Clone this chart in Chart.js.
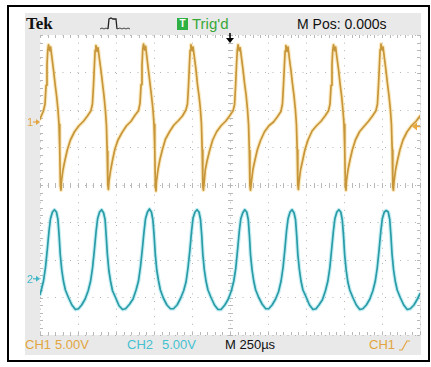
<!DOCTYPE html>
<html>
<head>
<meta charset="utf-8">
<script src="https://cdn.jsdelivr.net/npm/chart.js@4.4.1/dist/chart.umd.min.js"></script>
<style>
  html, body { margin: 0; padding: 0; background: #fff; }
  body { width: 431px; height: 367px; position: relative; overflow: hidden; font-family: "Liberation Sans", Arial, sans-serif; }
  .abs { position: absolute; white-space: nowrap; }
  .frame { left: 7px; top: 5px; width: 423px; height: 357px; border: 2px solid #000; box-sizing: border-box; }
  .screen { left: 25px; top: 13px; width: 396px; height: 342px; background: #e9e9e9; }
  .plot { left: 40px; top: 35px; width: 380px; height: 300px; background: #fff; }
  .tek { left: 26px; top: 15px; font: bold 17px/17px "Liberation Serif", "DejaVu Serif", serif; color: #111; }
  .trigbox { left: 177px; top: 18px; width: 11px; height: 12px; background: #2fb043; color: #fff; font: bold 10px/12px "Liberation Sans", sans-serif; text-align: center; }
  .trig { left: 192px; top: 16px; font-size: 15px; line-height: 15px; color: #38a838; }
  .mpos { left: 297px; top: 17px; font-size: 14px; line-height: 14px; color: #111; }
  .foot { top: 338px; font-size: 13px; line-height: 13px; }
  .c1 { color: #e2a540; }
  .c2 { color: #45c1d0; }
  .blk { color: #111; }
  canvas { position: absolute; left: 0; top: 0; }
</style>
</head>
<body>
<div class="abs frame"></div>
<div class="abs screen"></div>
<div class="abs plot"></div>

<div class="abs tek">Tek</div>
<svg class="abs" style="left:99px;top:16px" width="33" height="16">
  <polyline points="1,13 3,12 5,13 7,12 9,13" fill="none" stroke="#444" stroke-width="1"/>
  <polyline points="9,13 10,3 12,2 14,3 17,3 18,13" fill="none" stroke="#222" stroke-width="1.3"/>
  <polyline points="18,13 21,12 23,13 25,12 27,13 29,12 31,13" fill="none" stroke="#444" stroke-width="1"/>
</svg>
<div class="abs trigbox">T</div>
<div class="abs trig">Trig'd</div>
<div class="abs mpos">M Pos: 0.000s</div>

<div class="abs foot c1" style="left:25px">CH1</div>
<div class="abs foot c1" style="left:55px">5.00V</div>
<div class="abs foot c2" style="left:127px">CH2</div>
<div class="abs foot c2" style="left:162px">5.00V</div>
<div class="abs foot blk" style="left:225px">M 250µs</div>
<div class="abs foot c1" style="left:369px">CH1</div>
<svg class="abs" style="left:397px;top:339px" width="14" height="13">
  <polyline points="2,11 5,11 10,2 13,2" fill="none" stroke="#e2a540" stroke-width="1.2"/>
</svg>

<canvas id="scope" width="431" height="367"></canvas>

<script>
// time in microseconds (M 250us/div, trigger at 0), levels in volts (5 V/div)
const ch1Time = [
  -1250, -1227, -1217, -1210, -1204, -1199, -1194, -1186, -1180, -1171, -1161, -1151, -1141, -1132, -1125, -1120, -1116, -1112,
  -1109, -1099, -1086, -1070, -1050, -1023, -994, -964, -938, -915, -905, -898, -892, -887, -882, -874, -868, -859, -849, -839, -829, -820, -813, -808, -804, -800,
  -796, -786, -773, -757, -737, -710, -681, -651, -625, -602, -592, -585, -579, -574, -569, -561, -555, -546, -536, -526, -516, -507, -500, -495, -491, -487,
  -484, -474, -461, -445, -425, -398, -369, -339, -313, -290, -280, -273, -267, -262, -257, -249, -243, -234, -224, -214, -204, -195, -188, -183, -179, -175,
  -170, -163, -150, -134, -114, -88, -59, -29, -3, 20, 30, 37, 43, 48, 53, 61, 67, 76, 86, 96, 106, 115, 122, 127, 131, 135,
  141, 151, 164, 180, 200, 227, 256, 286, 312, 335, 345, 352, 358, 363, 368, 376, 382, 391, 401, 411, 421, 430, 437, 442, 446, 450,
  454, 464, 477, 493, 513, 540, 569, 599, 625, 648, 658, 665, 671, 676, 681, 689, 695, 704, 714, 724, 734, 743, 750, 755, 759, 763,
  766, 776, 789, 805, 825, 852, 881, 911, 937, 960, 970, 977, 983, 988, 993, 1001, 1007, 1016, 1026, 1036, 1046, 1055, 1062, 1067, 1071, 1075,
  1079, 1089, 1102, 1118, 1138, 1165, 1194, 1224, 1250
]
const ch1Volts = [
  0.4, 1.5, 2.4, 4.9, 7.6, 9.6, 10.3, 9.5, 10.0, 8.5, 6.9, 5.1, 3.5, 1.7, -0.3, -3.7, -8.5, -9.1,
  -8.0, -6.4, -5.1, -3.7, -2.4, -1.3, -0.5, 0.1, 0.8, 1.5, 2.4, 4.9, 7.6, 9.6, 10.2, 9.4, 9.9, 8.4, 6.9, 5.2, 3.5, 1.6, -0.4, -3.9, -8.4, -9.0,
  -7.9, -6.5, -5.1, -3.6, -2.4, -1.4, -0.5, 0.1, 0.9, 1.5, 2.5, 5.0, 7.5, 9.7, 10.4, 9.6, 10.1, 8.5, 6.8, 5.1, 3.4, 1.7, -0.3, -3.6, -8.6, -9.2,
  -8.0, -6.4, -5.0, -3.7, -2.3, -1.3, -0.4, 0.2, 0.8, 1.6, 2.4, 4.8, 7.6, 9.6, 10.3, 9.5, 10.0, 8.6, 7.0, 5.0, 3.5, 1.8, -0.2, -3.7, -8.5, -9.1,
  -8.1, -6.4, -5.1, -3.8, -2.4, -1.3, -0.5, 0.1, 0.8, 1.5, 2.3, 4.9, 7.7, 9.6, 10.3, 9.5, 9.9, 8.5, 6.9, 5.1, 3.6, 1.7, -0.3, -3.8, -8.5, -9.1,
  -8.0, -6.3, -5.1, -3.7, -2.5, -1.3, -0.5, 0.0, 0.7, 1.4, 2.4, 5.0, 7.6, 9.5, 10.2, 9.4, 10.0, 8.4, 6.9, 5.1, 3.5, 1.7, -0.3, -3.7, -8.4, -9.0,
  -8.0, -6.4, -5.2, -3.7, -2.4, -1.2, -0.5, 0.1, 0.8, 1.5, 2.4, 4.9, 7.6, 9.6, 10.3, 9.5, 10.0, 8.5, 7.0, 5.1, 3.5, 1.6, -0.3, -3.7, -8.5, -9.1,
  -7.9, -6.4, -5.1, -3.7, -2.4, -1.3, -0.6, 0.1, 0.8, 1.5, 2.4, 4.9, 7.6, 9.7, 10.4, 9.6, 10.0, 8.5, 6.9, 5.1, 3.5, 1.7, -0.3, -3.7, -8.6, -9.1,
  -8.0, -6.4, -5.1, -3.7, -2.4, -1.3, -0.5, 0.1, 0.8
]

const ch2Time = [
  -1250, -1243, -1227, -1214, -1202, -1191, -1181, -1168, -1155,
  -1142, -1132, -1124, -1117, -1107, -1096, -1083, -1063, -1040, -1017, -997,
  -976, -953, -933, -917, -904, -892, -881, -871, -858, -845,
  -832, -822, -814, -807, -797, -786, -773, -753, -730, -707, -687,
  -661, -638, -618, -602, -589, -577, -566, -556, -543, -530,
  -517, -507, -499, -492, -482, -471, -458, -438, -415, -392, -372,
  -348, -325, -305, -289, -276, -264, -253, -243, -230, -217,
  -204, -194, -186, -179, -169, -158, -145, -125, -102, -79, -59,
  -34, -11, 9, 25, 38, 50, 61, 71, 84, 97,
  110, 120, 128, 135, 145, 156, 169, 189, 212, 235, 255,
  277, 300, 320, 336, 349, 361, 372, 382, 395, 408,
  421, 431, 439, 446, 456, 467, 480, 500, 523, 546, 566,
  585, 608, 628, 644, 657, 669, 680, 690, 703, 716,
  729, 739, 747, 754, 764, 775, 788, 808, 831, 854, 874,
  897, 920, 940, 956, 969, 981, 992, 1002, 1015, 1028,
  1041, 1051, 1059, 1066, 1076, 1087, 1100, 1120, 1143, 1166, 1186,
  1210, 1233, 1250
]
const ch2Volts = [
  -2.1, -1.6, -0.3, 1.5, 3.9, 6.3, 8.0, 8.9, 9.2,
  8.9, 7.9, 5.7, 3.3, 1.2, -0.3, -1.5, -2.5, -3.5, -4.1, -4.0,
  -3.5, -2.7, -1.6, -0.3, 1.5, 3.9, 6.3, 8.0, 8.9, 9.2,
  8.8, 7.9, 5.6, 3.3, 1.1, -0.3, -1.6, -2.5, -3.6, -4.1, -4.0,
  -3.4, -2.7, -1.5, -0.3, 1.6, 3.9, 6.2, 8.0, 8.9, 9.3,
  8.9, 7.8, 5.7, 3.4, 1.2, -0.2, -1.5, -2.6, -3.5, -4.0, -4.0,
  -3.5, -2.6, -1.6, -0.4, 1.5, 3.8, 6.3, 8.1, 8.9, 9.2,
  8.9, 7.9, 5.8, 3.3, 1.2, -0.3, -1.5, -2.5, -3.5, -4.1, -4.1,
  -3.5, -2.7, -1.6, -0.3, 1.4, 3.9, 6.3, 8.0, 8.8, 9.2,
  8.9, 7.9, 5.7, 3.2, 1.2, -0.3, -1.5, -2.5, -3.4, -4.0, -4.0,
  -3.5, -2.7, -1.7, -0.3, 1.5, 3.9, 6.4, 8.0, 8.9, 9.2,
  8.8, 7.9, 5.7, 3.3, 1.3, -0.3, -1.5, -2.4, -3.5, -4.1, -4.0,
  -3.5, -2.8, -1.6, -0.3, 1.5, 4.0, 6.3, 8.0, 8.9, 9.2,
  8.9, 7.8, 5.7, 3.3, 1.2, -0.4, -1.5, -2.5, -3.5, -4.1, -4.0,
  -3.5, -2.7, -1.6, -0.3, 1.5, 3.9, 6.3, 8.0, 8.9, 9.1,
  8.9, 7.9, 5.7, 3.3, 1.2, -0.3, -1.5, -2.5, -3.5, -4.1, -4.0,
  -3.5, -2.7, -2.0
]

const timeTicks = [-1250, -1000, -750, -500, -250, 0, 250, 500, 750, 1000, 1250]
const divTicks = [-4, -3, -2, -1, 0, 1, 2, 3, 4]
const trigLevel = -0.6

const CH1 = '#c8963a'
const CH1_GLOW = 'rgba(244, 208, 120, 0.45)'
const CH2 = '#2a9ca7'
const CH2_GLOW = 'rgba(130, 218, 228, 0.45)'

const pts = (ts, vs) => ts.map((t, i) => ({ x: t, y: vs[i] }))

const trace = (data, axis, color, width, order) => ({
  data, yAxisID: axis, borderColor: color, borderWidth: width, order,
  borderJoinStyle: 'round', borderCapStyle: 'round',
  pointRadius: 0, tension: 0, fill: false
})

// minor ticks on the edges and centre cross, channel markers, trigger arrows
const decor = {
  id: 'decor',
  beforeDatasetsDraw(chart) {
    const { ctx, chartArea: a, scales: { x, yDiv } } = chart
    const cx = x.getPixelForValue(0)
    const cy = yDiv.getPixelForValue(0)
    ctx.save()
    ctx.strokeStyle = '#b8b8b8'
    ctx.lineWidth = 1
    ctx.beginPath()
    for (let t = -1250; t <= 1250; t += 50) {
      const px = Math.round(x.getPixelForValue(t)) + 0.5
      ctx.moveTo(px, a.top); ctx.lineTo(px, a.top + 3)
      ctx.moveTo(px, a.bottom - 3); ctx.lineTo(px, a.bottom)
      ctx.moveTo(px, cy - 2); ctx.lineTo(px, cy + 3)
    }
    for (let d = -20; d <= 20; d++) {
      const py = Math.round(yDiv.getPixelForValue(d / 5)) + 0.5
      ctx.moveTo(a.left, py); ctx.lineTo(a.left + 3, py)
      ctx.moveTo(a.right - 3, py); ctx.lineTo(a.right, py)
      ctx.moveTo(cx - 2, py); ctx.lineTo(cx + 3, py)
    }
    ctx.stroke()
    ctx.restore()
  },
  afterDatasetsDraw(chart) {
    const { ctx, chartArea: a, scales: { x, y1, y2 } } = chart
    ctx.save()
    const marker = (label, py, color) => {
      ctx.fillStyle = color
      ctx.strokeStyle = color
      ctx.font = '11px "Liberation Sans", sans-serif'
      ctx.textBaseline = 'middle'
      ctx.fillText(label, a.left - 13, py + 1)
      ctx.lineWidth = 1.2
      ctx.beginPath(); ctx.moveTo(a.left - 7, py); ctx.lineTo(a.left - 2, py); ctx.stroke()
      ctx.beginPath(); ctx.moveTo(a.left, py); ctx.lineTo(a.left - 4, py - 3); ctx.lineTo(a.left - 4, py + 3); ctx.closePath(); ctx.fill()
    }
    marker('1', y1.getPixelForValue(0), '#e2a540')
    marker('2', y2.getPixelForValue(0), '#3fb7c6')

    // trigger position
    const tx = x.getPixelForValue(0)
    ctx.fillStyle = '#000'
    ctx.strokeStyle = '#000'
    ctx.lineWidth = 1.5
    ctx.beginPath(); ctx.moveTo(tx, a.top - 2); ctx.lineTo(tx, a.top + 4); ctx.stroke()
    ctx.beginPath(); ctx.moveTo(tx - 4, a.top + 3); ctx.lineTo(tx + 4, a.top + 3); ctx.lineTo(tx, a.top + 8); ctx.closePath(); ctx.fill()

    // trigger level
    const ly = y1.getPixelForValue(trigLevel)
    ctx.fillStyle = '#e9a93e'
    ctx.strokeStyle = '#e9a93e'
    ctx.beginPath(); ctx.moveTo(a.right - 8, ly); ctx.lineTo(a.right - 3, ly - 4); ctx.lineTo(a.right - 3, ly + 4); ctx.closePath(); ctx.fill()
    ctx.beginPath(); ctx.moveTo(a.right - 4, ly); ctx.lineTo(a.right, ly); ctx.stroke()
    ctx.restore()
  }
}

new Chart(document.getElementById('scope'), {
  type: 'line',
  data: {
    datasets: [
      trace(pts(ch1Time, ch1Volts), 'y1', CH1, 1.7, 0),
      trace(pts(ch2Time, ch2Volts), 'y2', CH2, 1.7, 0),
      trace(pts(ch1Time, ch1Volts), 'y1', CH1_GLOW, 4, 1),
      trace(pts(ch2Time, ch2Volts), 'y2', CH2_GLOW, 4, 1)
    ]
  },
  options: {
    responsive: false,
    animation: false,
    devicePixelRatio: 1,
    layout: { padding: { left: 40, top: 35, right: 11, bottom: 32 } },
    plugins: { legend: { display: false }, tooltip: { enabled: false } },
    scales: {
      x: {
        type: 'linear', min: -1250, max: 1250,
        afterBuildTicks: s => { s.ticks = timeTicks.map(v => ({ value: v })) },
        ticks: { display: false },
        grid: { color: '#b4b4b4', lineWidth: 1, drawTicks: false },
        border: { display: false, dash: [1, 6.6] }
      },
      yDiv: {
        type: 'linear', position: 'left', min: -4, max: 4,
        afterBuildTicks: s => { s.ticks = divTicks.map(v => ({ value: v })) },
        ticks: { display: false },
        grid: { color: '#b4b4b4', lineWidth: 1, drawTicks: false },
        border: { display: false, dash: [1, 6.5] }
      },
      y1: { display: false, min: -28.4, max: 11.6 },
      y2: { display: false, min: -7.5, max: 32.5 }
    }
  },
  plugins: [decor]
})
</script>
</body>
</html>
